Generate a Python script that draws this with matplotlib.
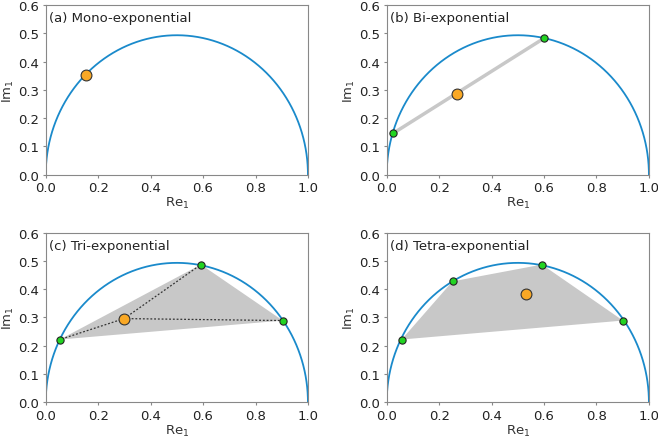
import numpy as np
import matplotlib.pyplot as plt

plt.rcParams['font.family'] = ['DejaVu Sans']

titles = ['(a) Mono-exponential', '(b) Bi-exponential',
          '(c) Tri-exponential', '(d) Tetra-exponential']

# component lifetimes (green) and mixture phasor (orange) per panel
comp_re = [[], [0.024, 0.601], [0.054, 0.592, 0.904], [0.057, 0.251, 0.592, 0.901]]
comp_im = [[], [0.146, 0.483], [0.222, 0.487, 0.289], [0.222, 0.4275, 0.487, 0.289]]
mix_re = [0.153, 0.267, 0.299, 0.533]
mix_im = [0.353, 0.285, 0.296, 0.384]

xticks = [0.0, 0.2, 0.4, 0.6, 0.8, 1.0]
yticks = [0.0, 0.1, 0.2, 0.3, 0.4, 0.5, 0.6]

blue = '#1a8acb'
orange = '#f9a825'
green = '#22d422'
gray = '#c8c8c8'
spine = '#888888'

fig = plt.figure(figsize=(6.58, 4.39), dpi=100)
lefts = [0.0695, 0.5877, 0.0695, 0.5877]
bottoms = [0.5998, 0.5998, 0.0813, 0.0813]

# universal semicircle (slightly flattened as in the source)
t = np.linspace(0, np.pi, 400)
circ_x = 0.5 - 0.5 * np.cos(t)
circ_y = 0.986 * 0.5 * np.sin(t)

for i in range(4):
    ax = fig.add_axes([lefts[i], bottoms[i], 0.3985, 0.3866])
    ax.plot(circ_x, circ_y, color=blue, lw=1.3, zorder=2)
    cx, cy = comp_re[i], comp_im[i]
    if len(cx) == 2:
        ax.plot(cx, cy, color=gray, lw=2.5, solid_capstyle='butt', zorder=1)
    elif len(cx) > 2:
        ax.fill(cx, cy, color=gray, lw=0, zorder=1)
        if len(cx) == 3:
            for x, y in zip(cx, cy):
                ax.plot([mix_re[i], x], [mix_im[i], y], color='#333333',
                        lw=0.9, ls=(0, (1.5, 1.5)), zorder=3)
    if cx:
        ax.plot(cx, cy, 'o', ms=5.2, mfc=green, mec='#222222', mew=0.8, ls='none', zorder=4)
    ax.plot(mix_re[i], mix_im[i], 'o', ms=7.8, mfc=orange, mec='#333333', mew=0.8, zorder=5)

    ax.set_xlim(0, 1)
    ax.set_ylim(0, 0.6)
    ax.set_xticks(xticks)
    ax.set_yticks(yticks)
    ax.set_xticklabels([f'{v:.1f}' for v in xticks])
    ax.set_yticklabels([f'{v:.1f}' for v in yticks])
    ax.tick_params(labelsize=9.5, color=spine, length=2.5, pad=2, labelcolor='#222222')
    for s in ax.spines.values():
        s.set_color(spine)
    ax.set_xlabel('Re$_1$', fontsize=9.5, labelpad=1, color='#333333')
    ax.set_ylabel('Im$_1$', fontsize=9.5, labelpad=2, color='#333333')
    ax.text(0.012, 0.965, titles[i], transform=ax.transAxes, ha='left', va='top',
            fontsize=9.5, color='#222222')

fig.savefig('out.png', dpi=100)
